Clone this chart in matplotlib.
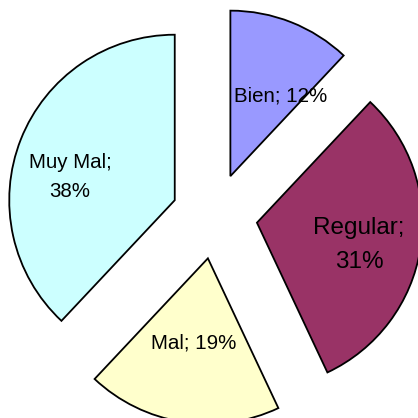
import matplotlib
matplotlib.use("Agg")
import matplotlib.pyplot as plt

categories = ["Bien", "Regular", "Mal", "Muy Mal"]
values = [12, 31, 19, 38]
colors = ["#9999FF", "#993366", "#FFFFCC", "#CCFFFF"]
explode = [0.259, 0.259, 0.259, 0.259]

plt.rcParams['font.family'] = ['Liberation Sans', 'DejaVu Sans']

fig = plt.figure(figsize=(4.18, 4.18), dpi=100)
ax = fig.add_axes([0, 0, 1, 1])

wedges, _ = ax.pie(values, colors=colors, explode=explode, startangle=90,
                   counterclock=False, radius=1.0,
                   wedgeprops=dict(edgecolor="black", linewidth=1.3))

R = 165.5
CX, CY = 214.6, 216.0
ax.set_xlim(-CX / R, (418 - CX) / R)
ax.set_ylim(-(418 - CY) / R, CY / R)
ax.set_aspect('equal')
ax.axis('off')

def px(x, y):
    return (x - CX) / R, (CY - y) / R

label_pos = [(280.5, 96), (359, 245), (194, 343), (70, 177)]
label_size = [14.8, 17.5, 14.8, 14.8]
label_text = [f"{categories[0]}; {values[0]}%",
              f"{categories[1]};\n{values[1]}%",
              f"{categories[2]}; {values[2]}%",
              f"{categories[3]};\n{values[3]}%"]
for (lx, ly), s, t in zip(label_pos, label_size, label_text):
    x, y = px(lx, ly)
    ax.text(x, y, t, ha='center', va='center', fontsize=s, color='black',
            linespacing=1.65)

fig.savefig("out.png", dpi=100)
